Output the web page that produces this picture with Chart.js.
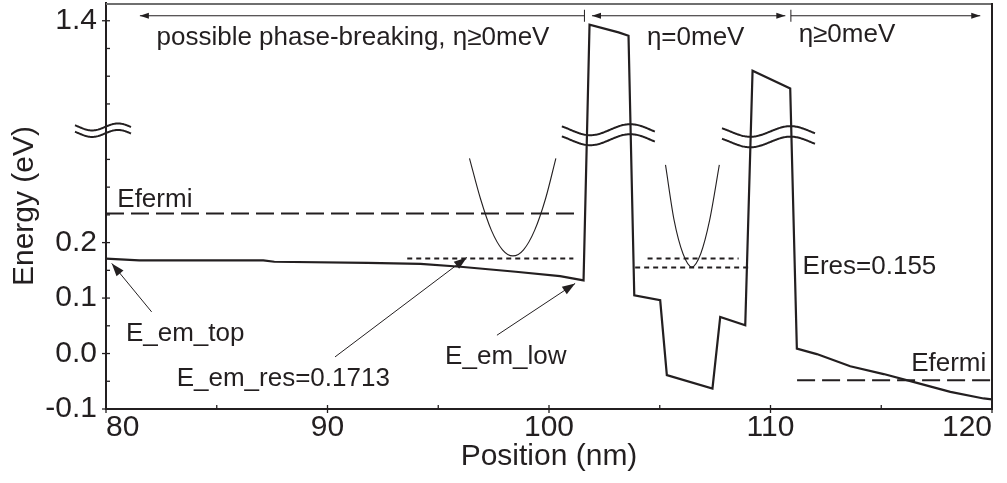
<!DOCTYPE html>
<html>
<head>
<meta charset="utf-8">
<script src="https://cdn.jsdelivr.net/npm/chart.js@4.4.0/dist/chart.umd.min.js"></script>
<style>
  html, body { margin: 0; padding: 0; background: #fff; }
  canvas { display: block; }
</style>
</head>
<body>
<canvas id="bandChart" width="1007" height="483"></canvas>
<script>
// conduction band profile (nm, eV)
const posNm = [80.0, 81.5, 87.1, 87.6, 91.8, 94.2, 96.0, 98.5, 100.5, 101.56, 101.83, 103.14, 103.59, 103.85,
  105.02, 105.32, 107.38, 107.73, 108.86, 109.19, 110.89, 111.19, 112.09, 113.6, 115.11, 116.61, 118.12, 119.62, 120.0];
const bandEv = [0.171, 0.168, 0.168, 0.1655, 0.1636, 0.1618, 0.1565, 0.1475, 0.1395, 0.132, 1.393, 1.379, 1.373, 0.105,
  0.096, -0.039, -0.063, 0.066, 0.051, 1.310, 1.278, 0.009, -0.001, -0.023, -0.037, -0.053, -0.069, -0.081, -0.0825];

// fermi levels
const fermiLeftNm = [80, 101.4];
const fermiLeftEv = [0.2527, 0.2527];
const fermiRightNm = [111.2, 120];
const fermiRightEv = [-0.048, -0.048];

// resonance levels
const resEmNm = [93.6, 101.1];
const resEmEv = [0.1713, 0.1713];
const resWellTopNm = [104.45, 108.56];
const resWellTopEv = [0.1713, 0.1713];
const resWellNm = [103.89, 109.16];
const resWellEv = [0.155, 0.155];

// dispersion sketches
const parabola1Nm = [96.41, 96.9, 97.4, 97.9, 98.37, 98.85, 99.35, 99.85, 100.31];
const parabola1Ev = [0.352, 0.28, 0.222, 0.187, 0.176, 0.187, 0.222, 0.28, 0.352];
const parabola2Nm = [105.26, 105.65, 106.05, 106.45, 106.85, 107.25, 107.69];
const parabola2Ev = [0.34, 0.24, 0.18, 0.156, 0.18, 0.24, 0.34];

// axis ticks
const xTickNm = [80, 85, 90, 95, 100, 105, 110, 115, 120];
const xTickLabels = ['80', '', '90', '', '100', '', '110', '', '120'];
const yTickEv = [-0.1, -0.05, 0, 0.05, 0.1, 0.15, 0.2, 0.25, 0.3, 0.35, 1.25, 1.3, 1.35, 1.4];
const yTickLabels = ['-0.1', '', '0.0', '', '0.1', '', '0.2', '', '', '', '', '', '', '1.4'];

// broken axis: values above the gap are shifted down
const toDisp = e => (e > 0.6 ? e - 0.8 : e);
const pts = (xs, ys) => xs.map((v, i) => ({x: v, y: toDisp(ys[i])}));

const FONT = '"Liberation Sans", Arial, Helvetica, sans-serif';
const INK = '#231f20';

const labels = [
  {text: 'possible phase-breaking, \u03b7\u22650meV', x: 82.28, e: 1.3565},
  {text: '\u03b7=0meV', x: 104.42, e: 1.3565},
  {text: '\u03b7\u22650meV', x: 111.27, e: 1.362},
  {text: 'Efermi', x: 80.51, e: 0.2635},
  {text: 'E_em_top', x: 80.9, e: 0.0235},
  {text: 'E_em_res=0.1713', x: 83.19, e: -0.0585},
  {text: 'E_em_low', x: 95.31, e: -0.018},
  {text: 'Eres=0.155', x: 111.45, e: 0.1431},
  {text: 'Efermi', x: 116.35, e: -0.0314}
];
const pointers = [
  {from: [82.06, 0.0751], to: [80.26, 0.1625]},
  {from: [90.34, -0.0061], to: [96.29, 0.1733]},
  {from: [97.65, 0.033], to: [101.18, 0.1264]}
];
const spans = [
  {from: 101.6, to: 81.53, headStart: false},
  {from: 101.94, to: 110.67, headStart: true},
  {from: 110.92, to: 119.47, headStart: false}
];
const spanBars = [101.6, 110.92];
const spanEv = 1.409;
const breaks = [
  {from: 78.6, to: 81.16, trough: 79.37, half: 1.17, d: 0.4085, gap: 6.5, amp: 3.5},
  {from: 100.58, to: 104.8, trough: 101.86, half: 1.81, d: 0.4036, gap: 10, amp: 5.5},
  {from: 107.81, to: 112.02, trough: 109.09, half: 1.81, d: 0.4004, gap: 10.5, amp: 5.3}
];

function head(ctx, x0, y0, x1, y1, len, w) {
  const a = Math.atan2(y1 - y0, x1 - x0);
  ctx.beginPath();
  ctx.moveTo(x1, y1);
  ctx.lineTo(x1 - len * Math.cos(a) + w * Math.sin(a), y1 - len * Math.sin(a) - w * Math.cos(a));
  ctx.lineTo(x1 - len * Math.cos(a) - w * Math.sin(a), y1 - len * Math.sin(a) + w * Math.cos(a));
  ctx.closePath();
  ctx.fill();
}

const decor = {
  id: 'decor',
  afterDraw(chart) {
    const {ctx, scales: {x, y}} = chart;
    const px = v => x.getPixelForValue(v);
    const py = e => y.getPixelForValue(toDisp(e));
    const L = x.getPixelForValue(x.min), R = x.getPixelForValue(x.max);
    const T = y.getPixelForValue(y.max), B = y.getPixelForValue(y.min);
    ctx.save();
    ctx.setLineDash([]);
    ctx.fillStyle = INK;

    // frame: top (grey) and right edges
    ctx.lineWidth = 2;
    ctx.strokeStyle = '#6f6f6f';
    ctx.beginPath(); ctx.moveTo(L, T + 1); ctx.lineTo(R + 1, T + 1); ctx.stroke();
    ctx.strokeStyle = INK;
    ctx.beginPath(); ctx.moveTo(R, T); ctx.lineTo(R, B); ctx.stroke();

    // tick marks
    ctx.lineWidth = 1.3;
    x.ticks.forEach((t, i) => {
      const p = x.getPixelForValue(t.value);
      ctx.beginPath();
      ctx.moveTo(p, B - 4);
      ctx.lineTo(p, B + (xTickLabels[i] ? 4 : 1));
      ctx.stroke();
    });
    y.ticks.forEach((t, i) => {
      const p = y.getPixelForValue(t.value);
      ctx.beginPath();
      ctx.moveTo(L + 4, p);
      ctx.lineTo(L - (yTickLabels[i] ? 4 : 1), p);
      ctx.stroke();
    });

    // break marks
    ctx.lineWidth = 2;
    breaks.forEach(b => {
      const x0 = px(b.from), x1 = px(b.to), xt = px(b.trough);
      const half = px(b.trough + b.half) - xt;
      const yc = y.getPixelForValue(b.d);
      [0, b.gap].forEach(off => {
        ctx.beginPath();
        for (let q = x0; q <= x1; q += 1) {
          const yy = yc + off + b.amp * Math.cos(Math.PI * (q - xt) / half);
          if (q === x0) ctx.moveTo(q, yy); else ctx.lineTo(q, yy);
        }
        ctx.stroke();
      });
    });

    // region spans along the top
    ctx.lineWidth = 1;
    const ys = py(spanEv);
    spans.forEach(s => {
      const x0 = px(s.from), x1 = px(s.to);
      ctx.beginPath(); ctx.moveTo(x0, ys); ctx.lineTo(x1, ys); ctx.stroke();
      head(ctx, x0, ys, x1, ys, 9, 3);
      if (s.headStart) head(ctx, x1, ys, x0, ys, 9, 3);
    });
    spanBars.forEach(v => {
      ctx.beginPath(); ctx.moveTo(px(v), ys - 6); ctx.lineTo(px(v), ys + 6); ctx.stroke();
    });

    // pointer arrows
    pointers.forEach(p => {
      const x0 = px(p.from[0]), y0 = py(p.from[1]);
      const x1 = px(p.to[0]), y1 = py(p.to[1]);
      ctx.beginPath(); ctx.moveTo(x0, y0); ctx.lineTo(x1, y1); ctx.stroke();
      head(ctx, x0, y0, x1, y1, 13, 4.5);
    });

    // text labels
    ctx.font = '26px ' + FONT;
    ctx.textBaseline = 'alphabetic';
    ctx.textAlign = 'left';
    labels.forEach(l => ctx.fillText(l.text, px(l.x), py(l.e)));
    ctx.restore();
  }
};

const lineStyle = {borderColor: INK, pointRadius: 0, fill: false, tension: 0};

new Chart(document.getElementById('bandChart').getContext('2d'), {
  type: 'line',
  data: {
    datasets: [
      {...lineStyle, label: 'band', data: pts(posNm, bandEv), borderWidth: 2.2},
      {...lineStyle, label: 'Efermi', data: pts(fermiLeftNm, fermiLeftEv), borderWidth: 2, borderDash: [18, 7]},
      {...lineStyle, label: 'Efermi', data: pts(fermiRightNm, fermiRightEv), borderWidth: 2, borderDash: [18, 7]},
      {...lineStyle, label: 'res', data: pts(resEmNm, resEmEv), borderWidth: 2, borderDash: [5, 4]},
      {...lineStyle, label: 'res', data: pts(resWellTopNm, resWellTopEv), borderWidth: 2, borderDash: [5, 4]},
      {...lineStyle, label: 'res', data: pts(resWellNm, resWellEv), borderWidth: 2, borderDash: [5, 4]},
      {...lineStyle, label: 'k1', data: pts(parabola1Nm, parabola1Ev), borderWidth: 1.1, cubicInterpolationMode: 'monotone'},
      {...lineStyle, label: 'k2', data: pts(parabola2Nm, parabola2Ev), borderWidth: 1.1, cubicInterpolationMode: 'monotone'}
    ]
  },
  options: {
    responsive: false,
    animation: false,
    devicePixelRatio: 1,
    layout: {padding: {top: 3, right: 15, left: 0, bottom: 0}},
    plugins: {legend: {display: false}, tooltip: {enabled: false}},
    scales: {
      x: {
        type: 'linear',
        min: 80,
        max: 120,
        afterBuildTicks: s => { s.ticks = xTickNm.map(v => ({value: v})); },
        afterFit: s => { s.height = 74; s.paddingLeft = 0; s.paddingRight = 0; },
        grid: {display: false, drawTicks: false},
        border: {display: true, color: INK, width: 2},
        ticks: {
          align: 'inner',
          padding: 1,
          color: INK,
          font: {family: FONT, size: 30},
          maxRotation: 0,
          autoSkip: false,
          callback: (v, i) => xTickLabels[i]
        },
        title: {display: true, text: 'Position (nm)', color: INK, font: {family: FONT, size: 30}, padding: {top: 0, bottom: 8}}
      },
      y: {
        type: 'linear',
        min: -0.1,
        max: 0.632,
        afterBuildTicks: s => { s.ticks = yTickEv.map(e => ({value: toDisp(e)})); },
        afterFit: s => { s.width = 106; s.paddingTop = 0; s.paddingBottom = 0; },
        grid: {display: false, drawTicks: false},
        border: {display: true, color: INK, width: 2},
        ticks: {
          padding: 9,
          color: INK,
          font: {family: FONT, size: 30},
          autoSkip: false,
          callback: (v, i) => yTickLabels[i]
        },
        title: {display: true, text: 'Energy (eV)', color: INK, font: {family: FONT, size: 30}, padding: {top: 7, bottom: 0}}
      }
    }
  },
  plugins: [decor]
});
</script>
</body>
</html>
